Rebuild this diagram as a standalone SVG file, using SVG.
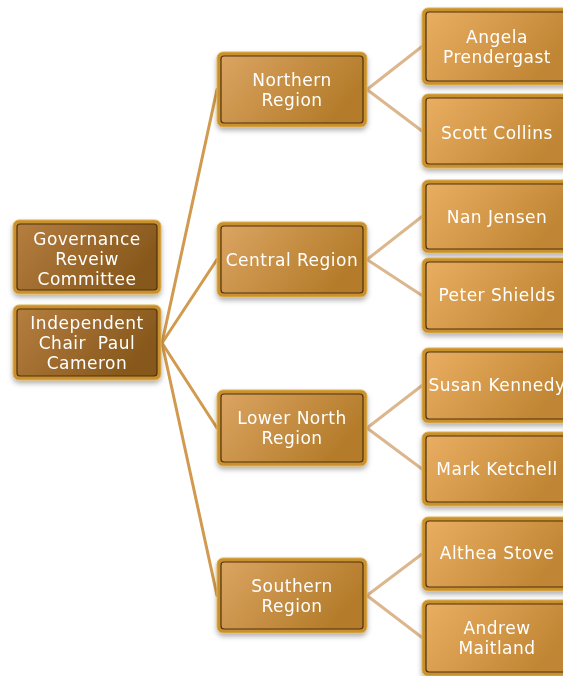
<svg xmlns="http://www.w3.org/2000/svg" width="563" height="676" viewBox="0 0 563 676">
<style>
.t{font-family:"DejaVu Sans","Liberation Sans",sans-serif;font-size:17px;fill:#ffffff;text-anchor:middle;letter-spacing:0.5px;white-space:pre}
.rim{fill:#c8902e;stroke:#e0b050;stroke-width:1}
.inr{stroke:#4e3210;stroke-width:1.2}
.c1{stroke:#d19a4e;stroke-width:3;fill:none;stroke-linecap:round}
.c2{stroke:#dcb78d;stroke-width:3;fill:none;stroke-linecap:round}
</style>
<defs>
<linearGradient id="gRoot" x1="0" y1="0" x2="1" y2="0.4">
<stop offset="0" stop-color="#b67e40"/>
<stop offset="1" stop-color="#87581c"/>
</linearGradient>
<linearGradient id="gReg" x1="0" y1="0" x2="1" y2="0.4">
<stop offset="0" stop-color="#dba462"/>
<stop offset="1" stop-color="#b47c2a"/>
</linearGradient>
<linearGradient id="gLeaf" x1="0" y1="0" x2="1" y2="0.4">
<stop offset="0" stop-color="#eaae62"/>
<stop offset="1" stop-color="#c18634"/>
</linearGradient>
<filter id="sh" x="-10%" y="-10%" width="120%" height="130%">
<feDropShadow dx="0" dy="3" stdDeviation="2.5" flood-color="#000" flood-opacity="0.3"/>
</filter>
</defs>

<g id="connectors">
<line class="c1" x1="162" y1="343" x2="217" y2="89.5"/>
<line class="c1" x1="162" y1="343" x2="217" y2="259.5"/>
<line class="c1" x1="162" y1="343" x2="217" y2="428"/>
<line class="c1" x1="162" y1="343" x2="217" y2="595.5"/>
<line class="c2" x1="367" y1="89.5" x2="422" y2="46.5"/>
<line class="c2" x1="367" y1="89.5" x2="422" y2="131"/>
<line class="c2" x1="367" y1="259.5" x2="422" y2="216.5"/>
<line class="c2" x1="367" y1="259.5" x2="422" y2="295.5"/>
<line class="c2" x1="367" y1="428" x2="422" y2="385.5"/>
<line class="c2" x1="367" y1="428" x2="422" y2="469"/>
<line class="c2" x1="367" y1="595.5" x2="422" y2="554"/>
<line class="c2" x1="367" y1="595.5" x2="422" y2="637.5"/>
</g>

<g id="governance" filter="url(#sh)">
<rect class="rim" x="13" y="220" width="148" height="74" rx="6"/>
<rect class="inr" x="17" y="224" width="140" height="66" rx="3" fill="url(#gRoot)"/>
<text class="t" x="87" y="245">Governance</text>
<text class="t" x="87" y="265">Reveiw</text>
<text class="t" x="87" y="285">Committee</text>
</g>
<g id="chair" filter="url(#sh)">
<rect class="rim" x="13" y="305" width="148" height="75" rx="6"/>
<rect class="inr" x="17" y="309" width="140" height="67" rx="3" fill="url(#gRoot)"/>
<text class="t" x="87" y="329">Independent</text>
<text class="t" x="87" y="349">Chair  Paul</text>
<text class="t" x="87" y="369">Cameron</text>
</g>

<g id="northern" filter="url(#sh)">
<rect class="rim" x="217" y="52" width="150" height="75" rx="6"/>
<rect class="inr" x="221" y="56" width="142" height="67" rx="3" fill="url(#gReg)"/>
<text class="t" x="292" y="86">Northern</text>
<text class="t" x="292" y="106">Region</text>
</g>
<g id="central" filter="url(#sh)">
<rect class="rim" x="217" y="222" width="150" height="75" rx="6"/>
<rect class="inr" x="221" y="226" width="142" height="67" rx="3" fill="url(#gReg)"/>
<text class="t" x="292" y="266">Central Region</text>
</g>
<g id="lowernorth" filter="url(#sh)">
<rect class="rim" x="217" y="390" width="150" height="76" rx="6"/>
<rect class="inr" x="221" y="394" width="142" height="68" rx="3" fill="url(#gReg)"/>
<text class="t" x="292" y="424">Lower North</text>
<text class="t" x="292" y="444">Region</text>
</g>
<g id="southern" filter="url(#sh)">
<rect class="rim" x="217" y="558" width="150" height="75" rx="6"/>
<rect class="inr" x="221" y="562" width="142" height="67" rx="3" fill="url(#gReg)"/>
<text class="t" x="292" y="592">Southern</text>
<text class="t" x="292" y="612">Region</text>
</g>

<g id="angela" filter="url(#sh)">
<rect class="rim" x="422" y="8" width="150" height="77" rx="6"/>
<rect class="inr" x="426" y="12" width="142" height="69" rx="3" fill="url(#gLeaf)"/>
<text class="t" x="497" y="43">Angela</text>
<text class="t" x="497" y="63">Prendergast</text>
</g>
<g id="scott" filter="url(#sh)">
<rect class="rim" x="422" y="94" width="150" height="74" rx="6"/>
<rect class="inr" x="426" y="98" width="142" height="66" rx="3" fill="url(#gLeaf)"/>
<text class="t" x="497" y="139">Scott Collins</text>
</g>
<g id="nan" filter="url(#sh)">
<rect class="rim" x="422" y="180" width="150" height="73" rx="6"/>
<rect class="inr" x="426" y="184" width="142" height="65" rx="3" fill="url(#gLeaf)"/>
<text class="t" x="497" y="223">Nan Jensen</text>
</g>
<g id="peter" filter="url(#sh)">
<rect class="rim" x="422" y="258" width="150" height="75" rx="6"/>
<rect class="inr" x="426" y="262" width="142" height="67" rx="3" fill="url(#gLeaf)"/>
<text class="t" x="497" y="301">Peter Shields</text>
</g>
<g id="susan" filter="url(#sh)">
<rect class="rim" x="422" y="348" width="150" height="75" rx="6"/>
<rect class="inr" x="426" y="352" width="142" height="67" rx="3" fill="url(#gLeaf)"/>
<text class="t" x="497" y="391">Susan Kennedy</text>
</g>
<g id="mark" filter="url(#sh)">
<rect class="rim" x="422" y="432" width="150" height="74" rx="6"/>
<rect class="inr" x="426" y="436" width="142" height="66" rx="3" fill="url(#gLeaf)"/>
<text class="t" x="497" y="475">Mark Ketchell</text>
</g>
<g id="althea" filter="url(#sh)">
<rect class="rim" x="422" y="517" width="150" height="74" rx="6"/>
<rect class="inr" x="426" y="521" width="142" height="66" rx="3" fill="url(#gLeaf)"/>
<text class="t" x="497" y="559">Althea Stove</text>
</g>
<g id="andrew" filter="url(#sh)">
<rect class="rim" x="422" y="600" width="150" height="76" rx="6"/>
<rect class="inr" x="426" y="604" width="142" height="68" rx="3" fill="url(#gLeaf)"/>
<text class="t" x="497" y="634">Andrew</text>
<text class="t" x="497" y="654">Maitland</text>
</g>
</svg>
